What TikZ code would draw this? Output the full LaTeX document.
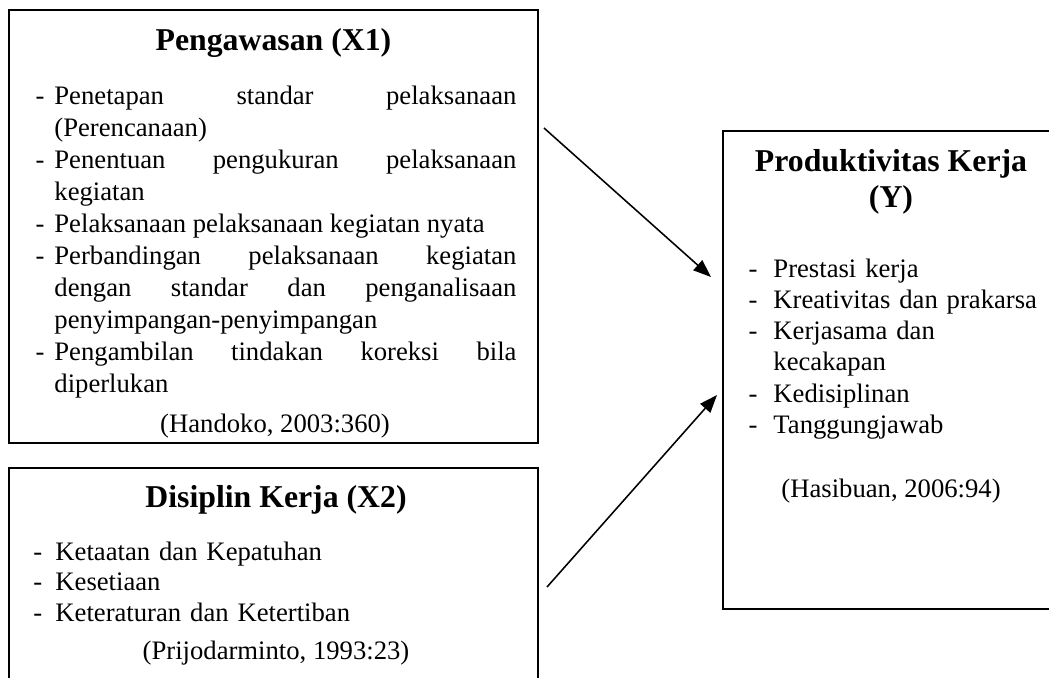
\documentclass[tikz,border=0pt]{standalone}
\usepackage{fontspec}
\setmainfont{Liberation Serif}
\usetikzlibrary{positioning, arrows.meta, fit}

\newcommand{\dashitem}[1]{\par\noindent\llap{-\hspace{#1}}\ignorespaces}

\begin{document}
\begin{tikzpicture}[
        x=0.45pt, y=-0.45pt,
        box/.style={
            draw,
            rectangle,
            line width=0.9pt,
            inner sep=0pt
        },
        title/.style={
            font=\bfseries\fontsize{14.3}{16.2}\selectfont,
            align=center,
            inner sep=0pt
        },
        items/.style={
            font=\fontsize{12}{14.4}\selectfont,
            inner sep=0pt,
            anchor=north west
        },
        source/.style={
            font=\fontsize{12}{14.4}\selectfont,
            inner sep=0pt,
            anchor=base
        },
        link/.style={
            -{Triangle[length=8pt, width=6pt]},
            line width=0.7pt
        }
    ]
        \useasboundingbox (0,0) rectangle (1049,677);

        % Boxes
        \node[box, fit={(9,10) (538,443)}] (pengawasan) {};
        \node[box, fit={(9,468) (538,700)}] (disiplin) {};
        \node[box, fit={(723,131) (1070,609)}] (produktivitas) {};

        % Titles
        \node[title, anchor=base] (pengawasan_title) at (273.5,50) {Pengawasan (X1)};
        \node[title, anchor=base] (disiplin_title) at (276,507) {Disiplin Kerja (X2)};
        \node[title, anchor=north] (produktivitas_title) at (891,149) {Produktivitas Kerja\\(Y)};

        % Indicators
        \node[items, text width=207.9pt, align=justify] (pengawasan_items) at (54,72) {%
            \dashitem{4.5pt}Penetapan standar pelaksanaan\linebreak (Perencanaan)
            \dashitem{4.5pt}Penentuan pengukuran pelaksanaan\linebreak kegiatan
            \dashitem{4.5pt}Pelaksanaan pelaksanaan kegiatan nyata
            \dashitem{4.5pt}Perbandingan pelaksanaan kegiatan\linebreak dengan standar dan penganalisaan\linebreak penyimpangan-penyimpangan
            \dashitem{4.5pt}Pengambilan tindakan koreksi bila\linebreak diperlukan};
        \node[items, text width=207.9pt, align=left, font=\fontsize{12}{13.8}\selectfont] (disiplin_items) at (55,529) {%
            \dashitem{5.9pt}Ketaatan dan Kepatuhan
            \dashitem{5.9pt}Kesetiaan
            \dashitem{5.9pt}Keteraturan dan Ketertiban};
        \node[items, text width=121.5pt, align=left, font=\fontsize{12}{14}\selectfont] (produktivitas_items) at (773,246) {%
            \dashitem{7.2pt}Prestasi kerja
            \dashitem{7.2pt}Kreativitas dan prakarsa
            \dashitem{7.2pt}Kerjasama dan\newline kecakapan
            \dashitem{7.2pt}Kedisiplinan
            \dashitem{7.2pt}Tanggungjawab};

        % Sources
        \node[source] (handoko) at (275,432) {(Handoko, 2003:360)};
        \node[source] (prijodarminto) at (276,659) {(Prijodarminto, 1993:23)};
        \node[source] (hasibuan) at (891,497) {(Hasibuan, 2006:94)};

        % Arrows
        \draw[link] ([shift={(5,-98.5)}]pengawasan.east) -- ([shift={(-11,-93)}]produktivitas.west);
        \draw[link] ([shift={(8,3)}]disiplin.east) -- ([shift={(-5,25)}]produktivitas.west);

    \end{tikzpicture}
\end{document}
